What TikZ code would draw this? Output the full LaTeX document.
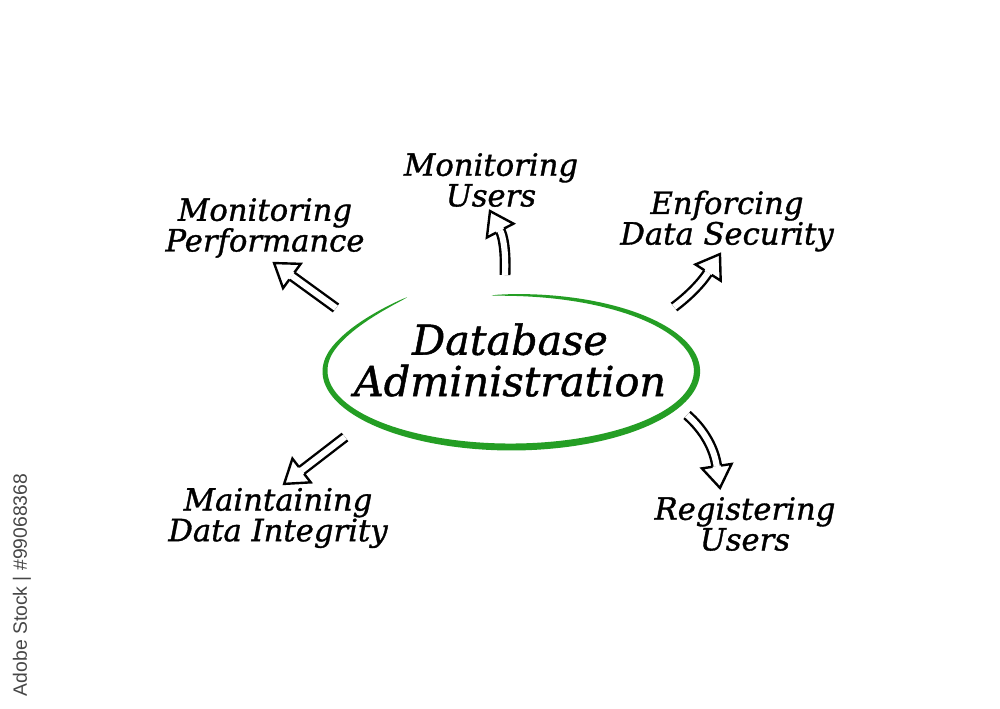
\documentclass[tikz,border=0pt]{standalone}
\usepackage{fontspec}
\newfontfamily\hand[FakeBold=1.1]{DejaVu Serif}
\newfontfamily\wmfont{Liberation Sans}
\usetikzlibrary{decorations.markings}
\definecolor{ringgreen}{RGB}{36,158,36}
\definecolor{wmgray}{RGB}{70,70,70}
\tikzset{
  lbl/.style={font=\hand\itshape\fontsize{23}{23}\selectfont, align=center, text=black, inner sep=0pt},
  titletext/.style={font=\hand\itshape\fontsize{31}{31}\selectfont, align=center, text=black, inner sep=0pt},
  hollow/.style={
    preaction={draw=black, line width=1.8pt, double=white, double distance=4.6pt, shorten >=16.5pt},
    postaction={decorate},
    decoration={markings, mark=at position 0.999 with {
      \draw[black, line width=1.8pt, fill=white, line join=miter]
        (-22,4.3) -- (-22,15) -- (0,0) -- (-22,-15) -- (-22,-4.3);}}},
  declare function={rw(\t)=7*sqrt(max(0.0001,sin((96-\t)*0.5422)));
                    fl(\t)=max(0,-196-\t)*max(0,-196-\t)/150;}
}
\begin{document}
\begin{tikzpicture}[x=0.75pt,y=-0.75pt]
\useasboundingbox (0,0) rectangle (1000,708);
\fill[white] (0,0) rectangle (1000,708);

% ring
\fill[ringgreen]
  plot[domain=-236:96, samples=200] ({511+(186+rw(\x)/2)*cos(\x)}, {371-(76+rw(\x)/2)*sin(\x)-fl(\x)})
  -- plot[domain=96:-236, samples=200] ({511+(186-rw(\x)/2)*cos(\x)}, {371-(76-rw(\x)/2)*sin(\x)-fl(\x)})
  -- cycle;

% texts
\node[titletext] (center) at (510,360) {Database\\Administration};
\node[lbl] (users) at (491,180) {Monitoring\\Users};
\node[lbl] (perf) at (265,228) {Monitoring\\Performance};
\node[lbl] (sec) at (727,221) {Enforcing\\Data Security};
\node[lbl] (integ) at (278,518) {Maintaining\\Data Integrity};
\node[lbl] (reg) at (745,524) {Registering\\Users};

% arrow ends
\coordinate (perfS) at (336,308);  \coordinate (perfT) at (274,263);
\coordinate (usrS) at (505,275);   \coordinate (usrT) at (490,211);
\coordinate (secS) at (674,307);   \coordinate (secT) at (720,254);
\coordinate (intS) at (345,437);   \coordinate (intT) at (284,484);
\coordinate (regS) at (687,415);   \coordinate (regT) at (720,488);

\path[hollow] (perfS) -- (perfT);
\path[hollow] (usrS) .. controls (506,250) and (503,236) .. (usrT);
\path[hollow] (secS) .. controls (690,295) and (702,282) .. (secT);
\path[hollow] (intS) -- (intT);
\path[hollow] (regS) .. controls (704,430) and (714,448) .. (regT);

% watermark
\node[rotate=90, font=\wmfont\fontsize{14.5}{14.5}\selectfont, text=wmgray, inner sep=0pt] (wm) at (22,585) {Adobe Stock | \#99068368};
\end{tikzpicture}
\end{document}
